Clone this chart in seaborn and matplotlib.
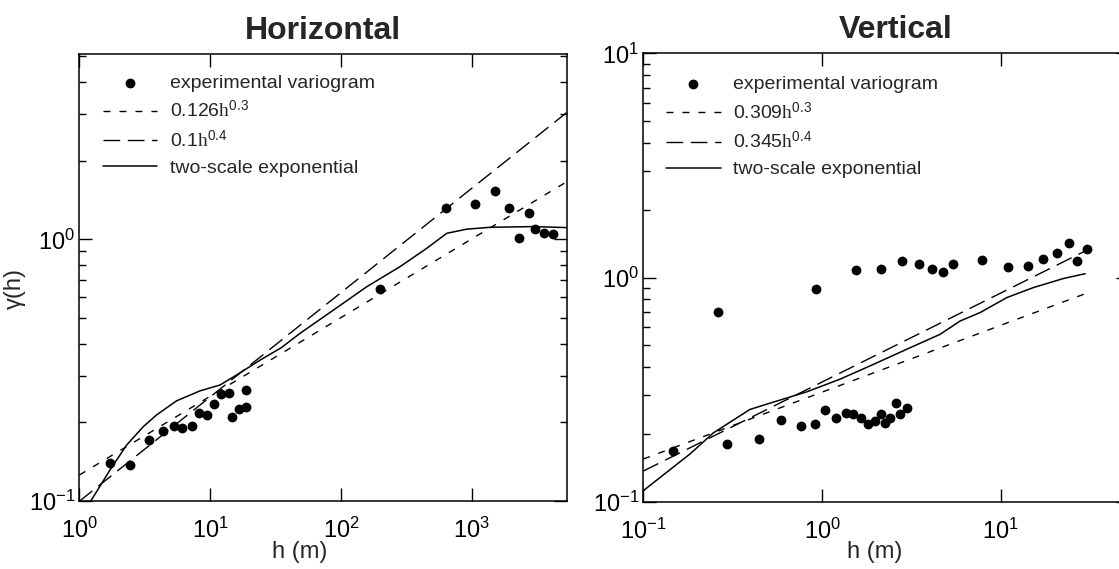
import matplotlib
matplotlib.use("Agg")
import matplotlib.pyplot as plt
import matplotlib.ticker as mticker
from matplotlib.collections import PathCollection
import seaborn as sns

# Horizontal direction: experimental variogram
hor_lag = [1.72, 2.44, 3.43, 4.39, 5.32, 6.10, 7.28, 8.23, 9.47, 10.7, 12.1, 13.9,
           14.7, 16.5, 18.7, 18.7, 199, 632, 1060, 1508, 1928, 2286, 2757, 3046,
           3551, 4206]
hor_gamma = [0.140, 0.138, 0.171, 0.185, 0.193, 0.190, 0.194, 0.217, 0.213, 0.236,
             0.256, 0.260, 0.209, 0.226, 0.229, 0.267, 0.645, 1.315, 1.36, 1.535,
             1.321, 1.01, 1.258, 1.099, 1.061, 1.045]

# Horizontal: two-scale exponential model
hor_model_h = [1.22, 1.72, 2.30, 3.09, 3.91, 5.55, 8.37, 11.9, 16.0, 24.1, 35.0,
               48.7, 87.5, 157, 283, 453, 644, 916, 1380, 2958, 5320]
hor_model_g = [0.100, 0.132, 0.164, 0.193, 0.214, 0.242, 0.264, 0.278, 0.304, 0.346,
               0.386, 0.438, 0.537, 0.659, 0.787, 0.925, 1.055, 1.094, 1.112, 1.119,
               1.109]

# Horizontal: power-law fits (end points)
hor_fit03_h = [1, 5320]
hor_fit03_g = [0.126, 1.66]
hor_fit04_h = [1, 5320]
hor_fit04_g = [0.100, 3.05]

# Vertical direction: experimental variogram
ver_lag = [0.147, 0.262, 0.293, 0.444, 0.590, 0.757, 0.914, 0.925, 1.043, 1.197,
           1.362, 1.497, 1.544, 1.660, 1.808, 1.972, 2.131, 2.147, 2.244, 2.40,
           2.59, 2.73, 2.81, 2.98, 3.50, 4.09, 4.75, 5.36, 7.86, 10.9, 14.2, 17.2,
           20.6, 24.0, 26.8, 30.3]
ver_gamma = [0.169, 0.700, 0.180, 0.190, 0.231, 0.218, 0.221, 0.893, 0.257, 0.236,
             0.248, 0.245, 1.075, 0.236, 0.221, 0.228, 0.245, 1.086, 0.224, 0.235,
             0.275, 0.247, 1.179, 0.261, 1.143, 1.086, 1.053, 1.150, 1.191, 1.112,
             1.123, 1.211, 1.284, 1.418, 1.179, 1.338]

# Vertical: two-scale exponential model
ver_model_h = [0.1, 0.182, 0.247, 0.395, 0.557, 0.820, 1.26, 1.94, 2.98, 4.57,
               5.92, 7.66, 10.8, 15.2, 22.4, 29.6]
ver_model_g = [0.112, 0.163, 0.203, 0.258, 0.281, 0.309, 0.352, 0.410, 0.479,
               0.558, 0.640, 0.698, 0.814, 0.902, 0.990, 1.040]

# Vertical: power-law fits (end points)
ver_fit03_h = [0.1, 30]
ver_fit03_g = [0.155, 0.850]
ver_fit04_h = [0.1, 30]
ver_fit04_g = [0.137, 1.32]

sns.set_style("ticks")
plt.rcParams["font.family"] = ["Liberation Sans", "DejaVu Sans"]
plt.rcParams["mathtext.fontset"] = "custom"
plt.rcParams["mathtext.rm"] = "Liberation Serif"
plt.rcParams["mathtext.it"] = "Liberation Serif:italic"
plt.rcParams["mathtext.bf"] = "Liberation Serif:bold"
plt.rcParams["axes.unicode_minus"] = False

SHORT = (0, (5, 6.5))
LONG = (0, (12, 5.5))


def panel(ax, lag, gamma, mh, mg, f3h, f3g, f4h, f4g, lab3, lab4):
    sns.lineplot(x=f3h, y=f3g, ax=ax, color="black", lw=1.0, linestyle=SHORT,
                 errorbar=None)
    sns.lineplot(x=f4h, y=f4g, ax=ax, color="black", lw=1.0, linestyle=LONG,
                 errorbar=None)
    sns.lineplot(x=mh, y=mg, ax=ax, color="black", lw=1.1, sort=False,
                 errorbar=None)
    sns.scatterplot(x=lag, y=gamma, ax=ax, color="black", s=50, linewidth=0,
                    zorder=5)
    ax.set_xscale("log")
    ax.set_yscale("log")
    lines = ax.get_lines()
    dots = [c for c in ax.collections if isinstance(c, PathCollection)][0]
    handles = [dots, lines[0], lines[1], lines[2]]
    labels = ["experimental variogram", lab3, lab4, "two-scale exponential"]
    ax.legend(handles, labels, loc="upper left", frameon=False, fontsize=14,
              handlelength=2.8, handletextpad=0.65, labelspacing=0.43,
              borderpad=0, borderaxespad=0, scatterpoints=1)
    ax.xaxis.set_minor_locator(mticker.NullLocator())
    ax.yaxis.set_minor_locator(mticker.LogLocator(base=10, subs=range(2, 10)))
    ax.yaxis.set_minor_formatter(mticker.NullFormatter())
    ax.tick_params(which="both", direction="in", top=True, right=True,
                   labelsize=17, width=1.0, colors="black")
    ax.tick_params(axis="x", which="major", length=9.5, pad=12)
    ax.tick_params(axis="y", which="major", length=9.5, pad=3)
    ax.tick_params(which="minor", length=5)
    for sp in ax.spines.values():
        sp.set_linewidth(1.1)
        sp.set_color("black")
    ax.set_xlabel("h (m)", fontsize=17)
    ax.set_ylabel("")


fig = plt.figure(figsize=(11.19, 5.69), dpi=100)
ax1 = fig.add_axes([0.0709, 0.119, 0.4356, 0.786])
ax2 = fig.add_axes([0.5749, 0.1183, 0.4340, 0.788])

panel(ax1, hor_lag, hor_gamma, hor_model_h, hor_model_g,
      hor_fit03_h, hor_fit03_g, hor_fit04_h, hor_fit04_g,
      r"0.126$\mathrm{h}^{\mathdefault{0.3}}$", r"0.1$\mathrm{h}^{\mathdefault{0.4}}$")
ax1.set_xlim(1, 5320)
ax1.set_ylim(0.1, 5.1)
ax1.legend_.set_bbox_to_anchor((0.0486, 0.955), transform=ax1.transAxes)
ax1.set_ylabel("γ(h)", fontsize=17)
ax1.yaxis.set_label_coords(-0.109, 0.475)
ax1.set_title("Horizontal", fontsize=23, fontweight="bold", pad=11)
ax1.xaxis.set_label_coords(0.453, -0.088)

panel(ax2, ver_lag, ver_gamma, ver_model_h, ver_model_g,
      ver_fit03_h, ver_fit03_g, ver_fit04_h, ver_fit04_g,
      r"0.309$\mathrm{h}^{\mathdefault{0.3}}$", r"0.345$\mathrm{h}^{\mathdefault{0.4}}$")
ax2.set_xlim(0.1, 52)
ax2.set_ylim(0.1, 10)
ax2.legend_.set_bbox_to_anchor((0.047, 0.950), transform=ax2.transAxes)
ax2.set_title("Vertical", fontsize=23, fontweight="bold", pad=11, x=0.52)
ax2.xaxis.set_label_coords(0.477, -0.088)

fig.savefig("out.png", dpi=100, facecolor="white")
